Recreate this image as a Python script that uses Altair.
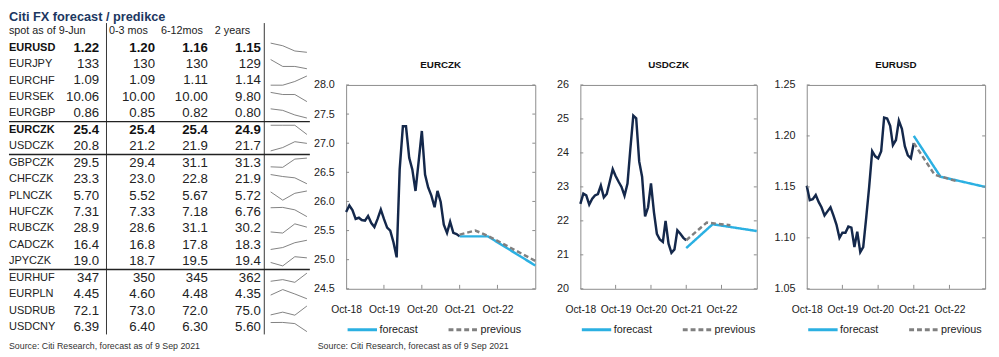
import altair as alt
import pandas as pd

# ---------------- table data ----------------
pairs = ["EURUSD", "EURJPY", "EURCHF", "EURSEK", "EURGBP", "EURCZK", "USDCZK",
         "GBPCZK", "CHFCZK", "PLNCZK", "HUFCZK", "RUBCZK", "CADCZK", "JPYCZK",
         "EURHUF", "EURPLN", "USDRUB", "USDCNY"]
spot_vals = [1.22, 133, 1.09, 10.06, 0.86, 25.4, 20.8, 29.5, 23.3, 5.70, 7.31, 28.9, 16.4, 19.0, 347, 4.45, 72.1, 6.39]
q0_3_vals = [1.20, 130, 1.09, 10.00, 0.85, 25.4, 21.2, 29.4, 23.0, 5.52, 7.33, 28.6, 16.8, 18.7, 350, 4.60, 73.0, 6.40]
m6_12_vals = [1.16, 130, 1.11, 10.00, 0.82, 25.4, 21.9, 31.1, 22.8, 5.67, 7.18, 31.1, 17.8, 19.5, 345, 4.48, 72.0, 6.30]
y2_vals = [1.15, 129, 1.14, 9.80, 0.80, 24.9, 21.7, 31.3, 21.9, 5.72, 6.76, 30.2, 18.3, 19.4, 362, 4.35, 75.0, 5.60]
decimals = [2, 0, 2, 2, 2, 1, 1, 1, 1, 2, 2, 1, 1, 1, 0, 2, 1, 2]
bold_pairs = ["EURUSD", "EURCZK"]
group_breaks = [4.5, 6.5, 13.5]
header_labels = ["spot as of 9-Jun", "0-3 mos", "6-12mos", "2 years"]
table_title = "Citi FX forecast / predikce"
source_text = "Source: Citi Research, forecast as of 9 Sep 2021"

# ---------------- chart data ----------------
hist_months = pd.date_range("2018-10-01", periods=37, freq="MS").strftime("%Y-%m-%d").tolist()
eurczk_hist = [25.82, 25.93, 25.85, 25.70, 25.72, 25.68, 25.67, 25.75, 25.63, 25.56,
               25.70, 25.86, 25.70, 25.55, 25.50, 25.30, 25.04, 26.55, 27.29, 27.29,
               26.75, 26.55, 26.18, 26.70, 27.21, 26.46, 26.24, 26.10, 25.90, 26.18,
               25.99, 25.60, 25.46, 25.65, 25.46, 25.44, 25.40]
usdczk_hist = [22.50, 22.80, 22.75, 22.48, 22.65, 22.75, 22.79, 23.04, 22.69, 22.79,
               23.15, 23.52, 23.32, 23.15, 23.00, 22.74, 23.10, 24.10, 25.10, 25.02,
               23.75, 23.30, 22.13, 22.40, 23.10, 22.25, 21.62, 21.45, 21.38, 22.00,
               21.33, 21.06, 21.16, 21.72, 21.62, 21.50, 21.43]
eurusd_hist = [1.151, 1.137, 1.138, 1.142, 1.135, 1.130, 1.122, 1.126, 1.130, 1.122,
               1.113, 1.100, 1.105, 1.105, 1.111, 1.110, 1.091, 1.106, 1.086, 1.091,
               1.120, 1.150, 1.185, 1.180, 1.178, 1.185, 1.218, 1.217, 1.210, 1.191,
               1.196, 1.215, 1.207, 1.190, 1.181, 1.178, 1.193]
forecast_dates = ["2021-10-01", "2022-07-01", "2023-10-01"]
eurczk_fc = [25.4, 25.4, 24.9]
usdczk_fc = [21.2, 21.9, 21.7]
eurusd_fc = [1.20, 1.16, 1.15]
eurczk_prev_dates = ["2021-10-01", "2022-03-01", "2022-07-01", "2023-10-01"]
eurczk_prev = [25.43, 25.50, 25.41, 24.98]
usdczk_prev_dates = ["2021-10-01", "2022-05-01", "2023-01-01"]
usdczk_prev = [21.43, 21.95, 21.87]
eurusd_prev_dates = ["2021-10-01", "2022-05-01", "2023-01-01"]
eurusd_prev = [1.193, 1.162, 1.155]
series_names = ["forecast", "previous"]
inner_tick_dates = ["2019-10-01", "2020-10-01", "2021-10-01", "2022-10-01"]

# ---------------- styles ----------------
NAVY = "#14284b"
BLUE = "#2bb0e2"
GRAY = "#808080"
FRAME = "#8a8a8a"
TITLE_C = "#1c3761"
TXT = "#222222"
SANS = "Liberation Sans, Arial, sans-serif"
PLOT_H = 208

# ---------------- table ----------------
tbl = pd.DataFrame({"pair": pairs, "row": list(range(len(pairs))),
                    "bold": [p in bold_pairs for p in pairs]})
for key, arr in [("spot", spot_vals), ("q", q0_3_vals), ("h", m6_12_vals), ("y", y2_vals)]:
    tbl[key] = [f"{v:.{d}f}" for v, d in zip(arr, decimals)]

spark = pd.DataFrame([{"row": i, "h": h, "v": arr[i]}
                      for i in range(len(pairs))
                      for h, arr in enumerate([spot_vals, q0_3_vals, m6_12_vals, y2_vals])])

ROW = alt.Scale(domain=[0, 17], range=[37, 322], nice=False, zero=False)
one = pd.DataFrame({"k": [0]})


def col_text(field, xpx, align, size, bold):
    return (alt.Chart(tbl)
            .transform_filter("datum.bold" if bold else "!datum.bold")
            .mark_text(align=align, baseline="middle", fontSize=size, font=SANS,
                       fontWeight="bold" if bold else "normal", color="#111" if bold else TXT)
            .encode(x=alt.value(xpx), y=alt.Y("row:Q", scale=ROW, axis=None),
                    text=f"{field}:N"))


layers = []
for bold in (False, True):
    layers.append(col_text("pair", 0, "left", 11.2, bold))
    layers.append(col_text("spot", 92, "right", 13.5, bold))
    layers.append(col_text("q", 149, "right", 13.5, bold))
    layers.append(col_text("h", 203, "right", 13.5, bold))
    layers.append(col_text("y", 257, "right", 13.5, bold))

for lbl, xpx in zip(header_labels, [0, 102, 155, 210]):
    layers.append(alt.Chart(one).mark_text(text=lbl, align="left", baseline="middle",
                                           fontSize=11, font=SANS, color=TXT)
                  .encode(x=alt.value(xpx), y=alt.YDatum(-1, scale=ROW, axis=None)))

layers.append(alt.Chart(one).mark_text(text=table_title, align="left", baseline="top",
                                       fontSize=13, font=SANS, fontWeight="bold", color=TITLE_C)
              .encode(x=alt.value(0), y=alt.value(0)))

for xpx in (99.5, 260.5):
    layers.append(alt.Chart(one).mark_rule(color="#333", strokeWidth=1)
                  .encode(x=alt.value(xpx), y=alt.YDatum(-1.5, scale=ROW, axis=None),
                          y2=alt.Y2Datum(17.45)))

layers.append(alt.Chart(pd.DataFrame({"b": group_breaks})).mark_rule(color="#222", strokeWidth=1.4)
              .encode(x=alt.value(0), x2=alt.value(307), y=alt.Y("b:Q", scale=ROW, axis=None)))

layers.append(alt.Chart(spark)
              .transform_joinaggregate(vmin="min(v)", vmax="max(v)", groupby=["row"])
              .transform_calculate(ypos="datum.row + 0.28 - 0.56*(datum.v - datum.vmin)/(datum.vmax - datum.vmin)")
              .mark_line(color=GRAY, strokeWidth=1)
              .encode(x=alt.X("h:Q", scale=alt.Scale(domain=[0, 3], range=[267, 304], nice=False, zero=False), axis=None),
                      y=alt.Y("ypos:Q", scale=ROW, axis=None),
                      detail="row:N"))

table = alt.layer(*layers).properties(width=307, height=330)

# ---------------- line charts ----------------
XDOM = [alt.DateTime(year=2018, month=10, date=1, utc=True),
        alt.DateTime(year=2023, month=10, date=1, utc=True)]
XVALS = [alt.DateTime(year=y, month=10, date=1, utc=True) for y in (2018, 2019, 2020, 2021, 2022)]


def fx_chart(name, hist, fc, prev_dates, prev, ydom, yvals, yfmt, width, extent):
    H = PLOT_H
    hdf = pd.DataFrame({"date": hist_months, "value": hist})
    sdf = pd.concat([
        pd.DataFrame({"date": forecast_dates, "value": fc, "series": series_names[0]}),
        pd.DataFrame({"date": prev_dates, "value": prev, "series": series_names[1]})],
        ignore_index=True)
    xs = alt.Scale(type="utc", domain=XDOM, nice=False)
    ys = alt.Scale(domain=ydom, nice=False, zero=False)
    xax = alt.Axis(values=XVALS, format="%b-%y", ticks=False, domain=False, grid=False,
                   labelPadding=16, labelFontSize=10.5, labelFont=SANS, labelColor=TXT,
                   title=None, labelFlush=False, labelOverlap=False)
    yax = alt.Axis(values=yvals, format=yfmt, ticks=False, domain=False, grid=False,
                   labelPadding=12, labelFontSize=11, labelFont=SANS, labelColor=TXT,
                   title=None, minExtent=extent, maxExtent=extent)
    X = alt.X("date:T", scale=xs, axis=xax)
    Y = alt.Y("value:Q", scale=ys, axis=yax)
    leg = alt.Legend(title=None, orient="bottom", direction="horizontal", symbolType="stroke",
                     symbolSize=900, symbolStrokeWidth=3, labelFontSize=11, labelFont=SANS,
                     labelColor=TXT, labelOffset=1, columnPadding=24, offset=-2, padding=0)
    hist_l = alt.Chart(hdf).mark_line(color=NAVY, strokeWidth=2.5).encode(x=X, y=Y)
    ser = alt.Chart(sdf).mark_line(strokeWidth=2.5).encode(
        x=X, y=Y,
        color=alt.Color("series:N", scale=alt.Scale(domain=series_names, range=[BLUE, GRAY]), legend=leg),
        strokeDash=alt.StrokeDash("series:N", scale=alt.Scale(domain=series_names, range=[[1, 0], [5, 3]]), legend=leg))
    xt = (alt.Chart(pd.DataFrame({"date": inner_tick_dates})).mark_rule(color=FRAME)
          .encode(x=X, y=alt.value(H), y2=alt.value(H - 4)))
    ytdf = pd.DataFrame({"value": yvals})
    ytl = alt.Chart(ytdf).mark_rule(color=FRAME).encode(y=Y, x=alt.value(0), x2=alt.value(3))
    ytr = alt.Chart(ytdf).mark_rule(color=FRAME).encode(y=Y, x=alt.value(width - 3), x2=alt.value(width))
    return alt.layer(hist_l, ser, xt, ytl, ytr).properties(
        width=width, height=H,
        title=alt.TitleParams(name, fontSize=10, fontWeight="bold", font=SANS, color="#111",
                              offset=9, anchor="middle"),
        view=alt.ViewBackground(stroke=FRAME, strokeWidth=1))


c1 = fx_chart("EURCZK", eurczk_hist, eurczk_fc, eurczk_prev_dates, eurczk_prev,
              [24.5, 28.0], [24.5, 25.0, 25.5, 26.0, 26.5, 27.0, 27.5, 28.0], ".1f", 193, 33)
c2 = fx_chart("USDCZK", usdczk_hist, usdczk_fc, usdczk_prev_dates, usdczk_prev,
              [20, 26], [20, 21, 22, 23, 24, 25, 26], "d", 180, 28)
c3 = fx_chart("EURUSD", eurusd_hist, eurusd_fc, eurusd_prev_dates, eurusd_prev,
              [1.05, 1.25], [1.05, 1.10, 1.15, 1.20, 1.25], ".2f", 182, 32)

charts_row = (alt.hconcat(c1, c2, c3, spacing=11)
              .resolve_scale(x="independent", y="independent", color="independent", strokeDash="independent")
              .resolve_legend(color="independent", strokeDash="independent"))

spacer = (alt.Chart(one).mark_point(opacity=0, size=0)
          .encode(x=alt.value(0), y=alt.value(0)).properties(width=20, height=49))

right = alt.vconcat(spacer, charts_row, spacing=0)
top = alt.hconcat(table, right, spacing=2).resolve_scale(x="independent", y="independent")

source = alt.layer(
    alt.Chart(one).mark_text(text=source_text, align="left", baseline="middle", fontSize=9,
                             font=SANS, color="#333").encode(x=alt.value(0), y=alt.value(9)),
    alt.Chart(one).mark_text(text=source_text, align="left", baseline="middle", fontSize=9,
                             font=SANS, color="#333").encode(x=alt.value(315), y=alt.value(9)),
).properties(width=600, height=14)

chart = (alt.vconcat(top, source, spacing=0)
         .properties(padding=0, background="white")
         .configure_view(stroke=None))

chart.save("out.html", embed_options={"renderer": "svg", "actions": False})
